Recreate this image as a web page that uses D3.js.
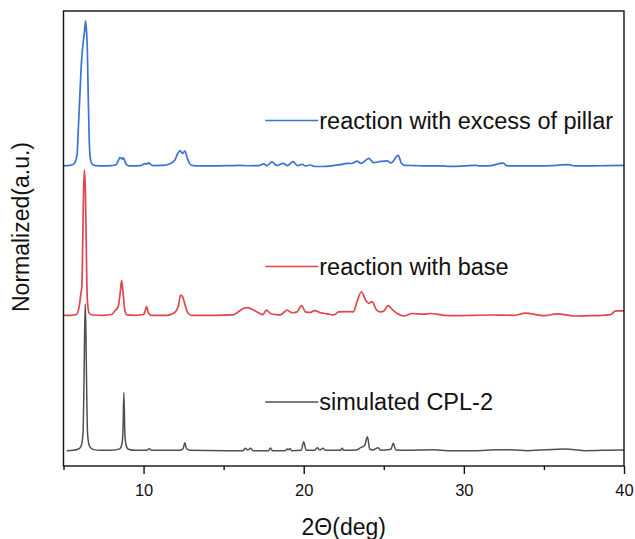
<!DOCTYPE html>
<html>
<head>
<meta charset="utf-8">
<script src="https://cdn.jsdelivr.net/npm/d3@7"></script>
<style>
  body { margin: 0; background: #fff; }
  svg { font-family: "Liberation Sans", Arial, sans-serif; }
</style>
</head>
<body>
<svg class="xrd" width="635" height="539"></svg>
<script>
// [2theta, normalized intensity above the trace's own baseline]
const excessPillar = [
  [5.0, 0.0], [5.4, 0.003], [5.6, 0.01], [5.75, 0.03], [5.85, 0.08], [5.93, 0.26], [6.02, 0.47],
  [6.13, 0.71], [6.23, 0.83], [6.31, 0.9], [6.38, 0.974], [6.44, 0.9], [6.49, 0.78], [6.54, 0.49],
  [6.61, 0.16], [6.69, 0.04], [6.8, 0.01], [7.0, 0.002], [7.5, 0.0], [8.0, 0.002], [8.3, 0.01],
  [8.42, 0.035], [8.52, 0.055], [8.62, 0.05], [8.66, 0.045], [8.74, 0.054], [8.82, 0.035], [8.92, 0.01],
  [9.1, 0.0], [9.6, 0.0], [9.9, 0.005], [10.05, 0.015], [10.18, 0.012], [10.3, 0.02], [10.45, 0.01],
  [10.6, 0.002], [11.2, 0.003], [11.65, 0.015], [11.96, 0.04], [12.12, 0.08], [12.28, 0.103],
  [12.42, 0.084], [12.58, 0.1], [12.72, 0.055], [12.85, 0.02], [13.0, 0.004], [13.5, 0.0], [14.5, 0.0],
  [15.5, 0.002], [16.0, 0.003], [16.5, 0.001], [17.2, 0.002], [17.5, 0.013], [17.7, 0.002], [18.02, 0.027],
  [18.3, 0.003], [18.72, 0.017], [18.98, 0.002], [19.33, 0.029], [19.6, 0.002], [19.9, 0.011], [20.1, 0.0],
  [20.4, 0.006], [20.7, -0.004], [21.2, -0.004], [21.7, 0.0], [22.3, 0.008], [22.7, 0.017], [23.0, 0.016],
  [23.33, 0.032], [23.58, 0.017], [24.07, 0.05], [24.35, 0.022], [24.8, 0.03], [25.2, 0.034], [25.45, 0.02],
  [25.9, 0.07], [26.1, 0.018], [26.3, 0.004], [27.0, 0.002], [27.5, 0.0], [28.5, 0.0], [29.2, -0.003],
  [30.0, 0.0], [30.75, 0.004], [31.0, 0.0], [31.5, 0.0], [32.45, 0.018], [32.72, 0.0], [33.5, 0.0],
  [34.6, 0.0], [35.8, 0.004], [36.55, 0.009], [36.9, 0.0], [38.0, 0.0], [39.0, 0.002], [40.0, 0.003]
];

const withBase = [
  [5.0, 0.0], [5.5, 0.0], [5.8, 0.005], [5.98, 0.06], [6.08, 0.14], [6.15, 0.2], [6.2, 0.49],
  [6.25, 0.82], [6.31, 0.976], [6.37, 0.82], [6.42, 0.49], [6.46, 0.2], [6.52, 0.06], [6.62, 0.012],
  [6.8, 0.002], [7.5, 0.0], [8.0, 0.005], [8.21, 0.03], [8.42, 0.06], [8.55, 0.16], [8.63, 0.235],
  [8.72, 0.15], [8.82, 0.04], [8.95, 0.003], [9.5, 0.0], [10.0, 0.005], [10.1, 0.03], [10.19, 0.058],
  [10.29, 0.02], [10.45, 0.0], [11.5, 0.0], [11.8, 0.01], [12.0, 0.025], [12.17, 0.06], [12.31, 0.135],
  [12.44, 0.125], [12.59, 0.07], [12.79, 0.012], [13.0, 0.0], [14.5, 0.0], [15.6, 0.003], [15.94, 0.025],
  [16.25, 0.047], [16.5, 0.052], [16.77, 0.04], [17.09, 0.022], [17.45, 0.005], [17.67, 0.035],
  [17.92, 0.012], [18.23, 0.005], [18.55, 0.003], [18.96, 0.035], [19.27, 0.017], [19.59, 0.023],
  [19.86, 0.065], [20.11, 0.023], [20.42, 0.019], [20.67, 0.031], [21.05, 0.017], [21.46, 0.01],
  [21.88, 0.003], [22.19, 0.023], [22.71, 0.025], [23.09, 0.023], [23.33, 0.092], [23.6, 0.158],
  [23.86, 0.103], [24.07, 0.08], [24.27, 0.092], [24.55, 0.035], [24.8, 0.023], [25.0, 0.028],
  [25.27, 0.065], [25.52, 0.04], [25.84, 0.012], [26.25, -0.005], [26.77, 0.012], [27.5, 0.008],
  [27.92, 0.012], [28.75, 0.0], [29.6, -0.003], [30.5, 0.0], [31.67, 0.002], [33.13, 0.0], [33.86, 0.014],
  [34.59, 0.003], [35.0, -0.003], [35.84, 0.01], [36.88, -0.005], [37.92, -0.003], [39.17, 0.005],
  [39.48, 0.03], [40.0, 0.03]
];

const simulated = [
  [5.2, 0.0], [5.6, 0.003], [5.85, 0.008], [6.04, 0.02], [6.14, 0.045], [6.22, 0.12], [6.28, 0.47],
  [6.32, 0.8], [6.36, 0.985], [6.4, 0.8], [6.44, 0.47], [6.5, 0.12], [6.58, 0.045], [6.69, 0.02],
  [6.9, 0.007], [7.3, 0.002], [8.0, 0.003], [8.5, 0.012], [8.64, 0.04], [8.71, 0.12], [8.77, 0.39],
  [8.83, 0.12], [8.9, 0.04], [9.05, 0.01], [9.5, 0.002], [10.2, 0.002], [10.36, 0.013], [10.5, 0.002],
  [12.3, 0.003], [12.47, 0.015], [12.58, 0.053], [12.68, 0.015], [12.9, 0.002], [16.2, 0.0],
  [16.36, 0.016], [16.5, 0.004], [16.67, 0.016], [16.85, 0.0], [17.8, 0.0], [17.92, 0.018], [18.05, 0.0],
  [18.85, 0.0], [18.96, 0.011], [19.05, 0.006], [19.13, 0.015], [19.25, 0.0], [19.85, 0.003], [20.0, 0.06],
  [20.15, 0.003], [20.7, 0.003], [20.84, 0.02], [21.0, 0.005], [21.21, 0.016], [21.35, 0.002],
  [22.3, 0.002], [22.4, 0.016], [22.5, 0.002], [23.3, 0.005], [23.55, 0.02], [23.8, 0.034], [23.98, 0.093],
  [24.12, 0.012], [24.3, 0.004], [24.65, 0.02], [24.8, 0.003], [25.45, 0.01], [25.59, 0.049], [25.75, 0.005],
  [26.5, 0.002], [27.09, 0.004], [28.13, 0.006], [29.0, 0.0], [30.63, 0.0], [32.19, 0.006], [32.92, 0.006],
  [34.0, 0.0], [36.36, 0.011], [37.5, 0.0], [39.8, 0.004], [40.0, 0.002]
];

const seriesNames = ['reaction with excess of pillar', 'reaction with base', 'simulated CPL-2'];
const seriesOffsets = [2.015, 1.012, 0.103];
const legendLevels = [2.32, 1.34, 0.43];
const seriesColors = ['#3a74d3', '#e0464c', '#505050'];

const majorTicks = [10, 20, 30, 40];
const minorTicks = [5, 15, 25, 35];

const svg = d3.select('.xrd');
const margin = { left: 63.5, top: 11, right: 11, bottom: 73 };
const width = +svg.attr('width') - margin.left - margin.right;
const height = +svg.attr('height') - margin.top - margin.bottom;

const x = d3.scaleLinear().domain([5, 40]).range([0, width]);
const y = d3.scaleLinear().domain([0, 3.055]).range([height, 0]);

const g = svg.append('g').attr('transform', `translate(${margin.left},${margin.top})`);

g.append('clipPath').attr('id', 'clip')
  .append('rect').attr('width', width).attr('height', height);

const allSeries = [excessPillar, withBase, simulated];

const line = offset => d3.line()
  .x(d => x(d[0]))
  .y(d => y(d[1] + offset))
  .curve(d3.curveMonotoneX);

g.append('g').attr('clip-path', 'url(#clip)')
  .selectAll('path')
  .data(allSeries)
  .join('path')
  .attr('fill', 'none')
  .attr('stroke', (d, i) => seriesColors[i])
  .attr('stroke-width', (d, i) => i === 2 ? 1.5 : 1.7)
  .attr('stroke-linejoin', 'round')
  .attr('d', (d, i) => line(seriesOffsets[i])(d));

// legend entries, each beside its own trace
const legend = g.selectAll('.legend')
  .data(seriesNames)
  .join('g')
  .attr('class', 'legend')
  .attr('transform', (d, i) => `translate(${x(17.6)},${y(legendLevels[i])})`);

legend.append('line')
  .attr('x1', 0).attr('x2', 53)
  .attr('stroke', (d, i) => seriesColors[i])
  .attr('stroke-width', 1.5);

legend.append('text')
  .attr('x', 54)
  .attr('y', 8.5)
  .attr('font-size', 23.5)
  .attr('fill', '#111')
  .text(d => d);

// frame
g.append('rect')
  .attr('width', width).attr('height', height)
  .attr('fill', 'none')
  .attr('stroke', '#111')
  .attr('stroke-width', 1.4);

const xAxisG = g.append('g')
  .attr('transform', `translate(0,${height})`)
  .call(d3.axisBottom(x).tickValues(majorTicks).tickSize(8).tickSizeOuter(0).tickPadding(10));

xAxisG.select('.domain').remove();
xAxisG.selectAll('.tick line').attr('stroke', '#111').attr('stroke-width', 1.4);
xAxisG.selectAll('.tick text')
  .attr('font-size', 16.5)
  .attr('font-family', '"Liberation Sans", Arial, sans-serif')
  .attr('fill', '#111');

const minorG = g.append('g')
  .attr('transform', `translate(0,${height})`)
  .call(d3.axisBottom(x).tickValues(minorTicks).tickSize(4).tickSizeOuter(0).tickFormat(''));
minorG.select('.domain').remove();
minorG.selectAll('.tick line').attr('stroke', '#111').attr('stroke-width', 1.4);

xAxisG.append('text')
  .attr('x', width / 2)
  .attr('y', 69)
  .attr('fill', '#111')
  .attr('font-size', 23)
  .attr('text-anchor', 'middle')
  .text('2Θ(deg)');

g.append('text')
  .attr('transform', `translate(${28.5 - margin.left},${227 - margin.top}) rotate(-90)`)
  .attr('fill', '#111')
  .attr('font-size', 23)
  .attr('text-anchor', 'middle')
  .text('Normalized(a.u.)');
</script>
</body>
</html>
